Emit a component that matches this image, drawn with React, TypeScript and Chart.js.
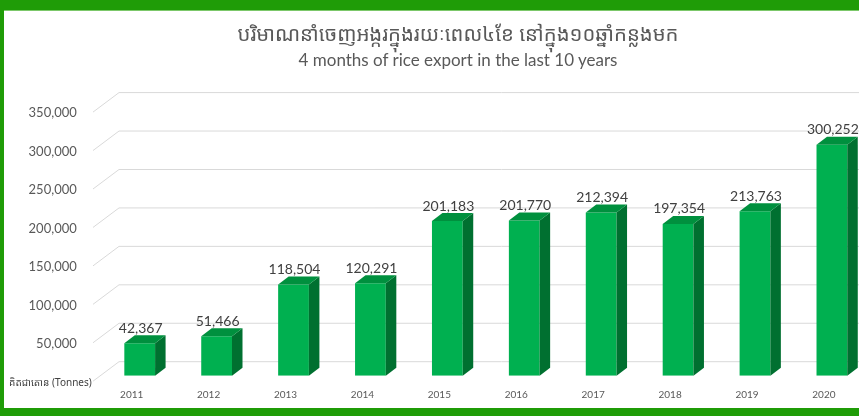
import React, { useEffect, useRef } from "react";
import { Chart, registerables } from "chart.js";

Chart.register(...registerables);

const years = ["2011", "2012", "2013", "2014", "2015", "2016", "2017", "2018", "2019", "2020"];
const exportTonnes = [42367, 51466, 118504, 120291, 201183, 201770, 212394, 197354, 213763, 300252];
const yTicksMax = 350000;
const yTickStep = 50000;
const titleText = "បរិមាណនាំចេញអង្ករក្នុងរយៈពេល៤ខែ នៅក្នុង១០ឆ្នាំកន្លងមក";
const subtitleText = "4 months of rice export in the last 10 years";
const unitLabel = "គិតជាតោន (Tonnes)";

const GREEN_BORDER = "#1f9c07";
const FONT = "Lato, 'Noto Sans', sans-serif";
const KH_FONT = "'Noto Sans Khmer', 'Khmer OS', 'Noto Sans', Lato, sans-serif";

const fmt = (v: number) => v.toLocaleString("en-US");

const threeD = {
  id: "threeD",
  beforeDatasetsDraw(chart: any) {
    const { ctx, chartArea, scales } = chart;
    const y = scales.y;
    ctx.save();
    ctx.strokeStyle = "#d9d9d9";
    ctx.lineWidth = 1;
    y.ticks.forEach((t: any) => {
      const py = y.getPixelForValue(t.value);
      const sy = py + 5.5;
      const ey = py - 14;
      ctx.beginPath();
      ctx.moveTo(chartArea.left - 8.25, sy);
      ctx.lineTo(chartArea.left + 17.75, ey);
      ctx.lineTo(chart.width, ey);
      ctx.stroke();
    });
    // unit label at zero position
    ctx.fillStyle = "#404040";
    ctx.font = "10px " + KH_FONT;
    ctx.textAlign = "right";
    ctx.textBaseline = "middle";
    ctx.fillText(unitLabel, chartArea.left - 9.5, y.getPixelForValue(0) + 7.5);
    ctx.restore();
  },
  afterDatasetsDraw(chart: any) {
    const { ctx } = chart;
    const meta = chart.getDatasetMeta(0);
    const dx = 10.5;
    const dy = -8;
    ctx.save();
    meta.data.forEach((bar: any, i: number) => {
      const { x, y, base, width } = bar.getProps(["x", "y", "base", "width"], true);
      const l = x - width / 2;
      const r = x + width / 2;
      // side
      ctx.fillStyle = "#007030";
      ctx.beginPath();
      ctx.moveTo(r, y);
      ctx.lineTo(r + dx, y + dy);
      ctx.lineTo(r + dx, base + dy);
      ctx.lineTo(r, base);
      ctx.closePath();
      ctx.fill();
      // top
      ctx.fillStyle = "#00903e";
      ctx.beginPath();
      ctx.moveTo(l, y);
      ctx.lineTo(l + dx, y + dy);
      ctx.lineTo(r + dx, y + dy);
      ctx.lineTo(r, y);
      ctx.closePath();
      ctx.fill();
      // value label
      ctx.fillStyle = "#404040";
      ctx.font = "14px " + FONT;
      ctx.textAlign = "center";
      ctx.textBaseline = "middle";
      ctx.fillText(fmt(exportTonnes[i]), x + 1, y - 15);
    });
    ctx.restore();
  },
};

export default function App() {
  const ref = useRef<HTMLCanvasElement | null>(null);

  useEffect(() => {
    if (!ref.current) return;
    const chart = new Chart(ref.current, {
      type: "bar",
      data: {
        labels: years,
        datasets: [
          {
            data: exportTonnes,
            backgroundColor: "#00b050",
            borderWidth: 0,
            barPercentage: 0.4,
            categoryPercentage: 1,
          },
        ],
      },
      options: {
        animation: false,
        responsive: true,
        maintainAspectRatio: false,
        layout: { padding: { left: 0, right: 13.65, top: 96.6, bottom: 0 } },
        plugins: {
          legend: { display: false },
          tooltip: { enabled: false },
          title: { display: false },
        },
        scales: {
          x: {
            grid: { display: false, drawTicks: false },
            border: { display: false },
            afterFit: (s: any) => {
              s.height = 30.5;
            },
            ticks: {
              color: "#595959",
              font: { family: FONT, size: 10 },
              padding: 13.5,
              labelOffset: -8,
              maxRotation: 0,
            },
          },
          y: {
            min: 0,
            max: yTicksMax,
            grid: { display: false, drawTicks: false },
            border: { display: false },
            afterFit: (s: any) => {
              s.width = 97.25;
            },
            ticks: {
              stepSize: yTickStep,
              color: "#595959",
              font: { family: FONT, size: 13 },
              padding: 24.5,
              labelOffset: 6.5,
              callback: (v: any) => (Number(v) === 0 ? "" : fmt(Number(v))),
            },
          },
        },
      },
      plugins: [threeD],
    });
    return () => chart.destroy();
  }, []);

  return (
    <div
      style={{
        position: "fixed",
        left: 0,
        top: 0,
        width: 859,
        height: 416,
        overflow: "hidden",
        background: "#ffffff",
      }}
    >
      <div style={{ position: "absolute", left: 4, top: 10, width: 880, height: 398 }}>
        <canvas ref={ref} />
      </div>
      <div
        style={{
          position: "absolute",
          left: 0,
          top: 20,
          width: 916,
          textAlign: "center",
          fontFamily: KH_FONT,
          fontSize: 20.3,
          lineHeight: "26px",
          color: "#595959",
          whiteSpace: "nowrap",
        }}
      >
        {titleText}
      </div>
      <div
        style={{
          position: "absolute",
          left: 0,
          top: 50,
          width: 916,
          textAlign: "center",
          fontFamily: FONT,
          fontSize: 17,
          lineHeight: "20px",
          color: "#595959",
          whiteSpace: "nowrap",
        }}
      >
        {subtitleText}
      </div>
      <div style={{ position: "absolute", left: 0, top: 0, width: 859, height: 10, background: GREEN_BORDER }} />
      <div style={{ position: "absolute", left: 0, top: 10, width: 859, height: 1, background: "#7cc86a" }} />
      <div style={{ position: "absolute", left: 0, top: 0, width: 4, height: 416, background: GREEN_BORDER }} />
      <div style={{ position: "absolute", left: 0, top: 408, width: 859, height: 8, background: GREEN_BORDER }} />
    </div>
  );
}
